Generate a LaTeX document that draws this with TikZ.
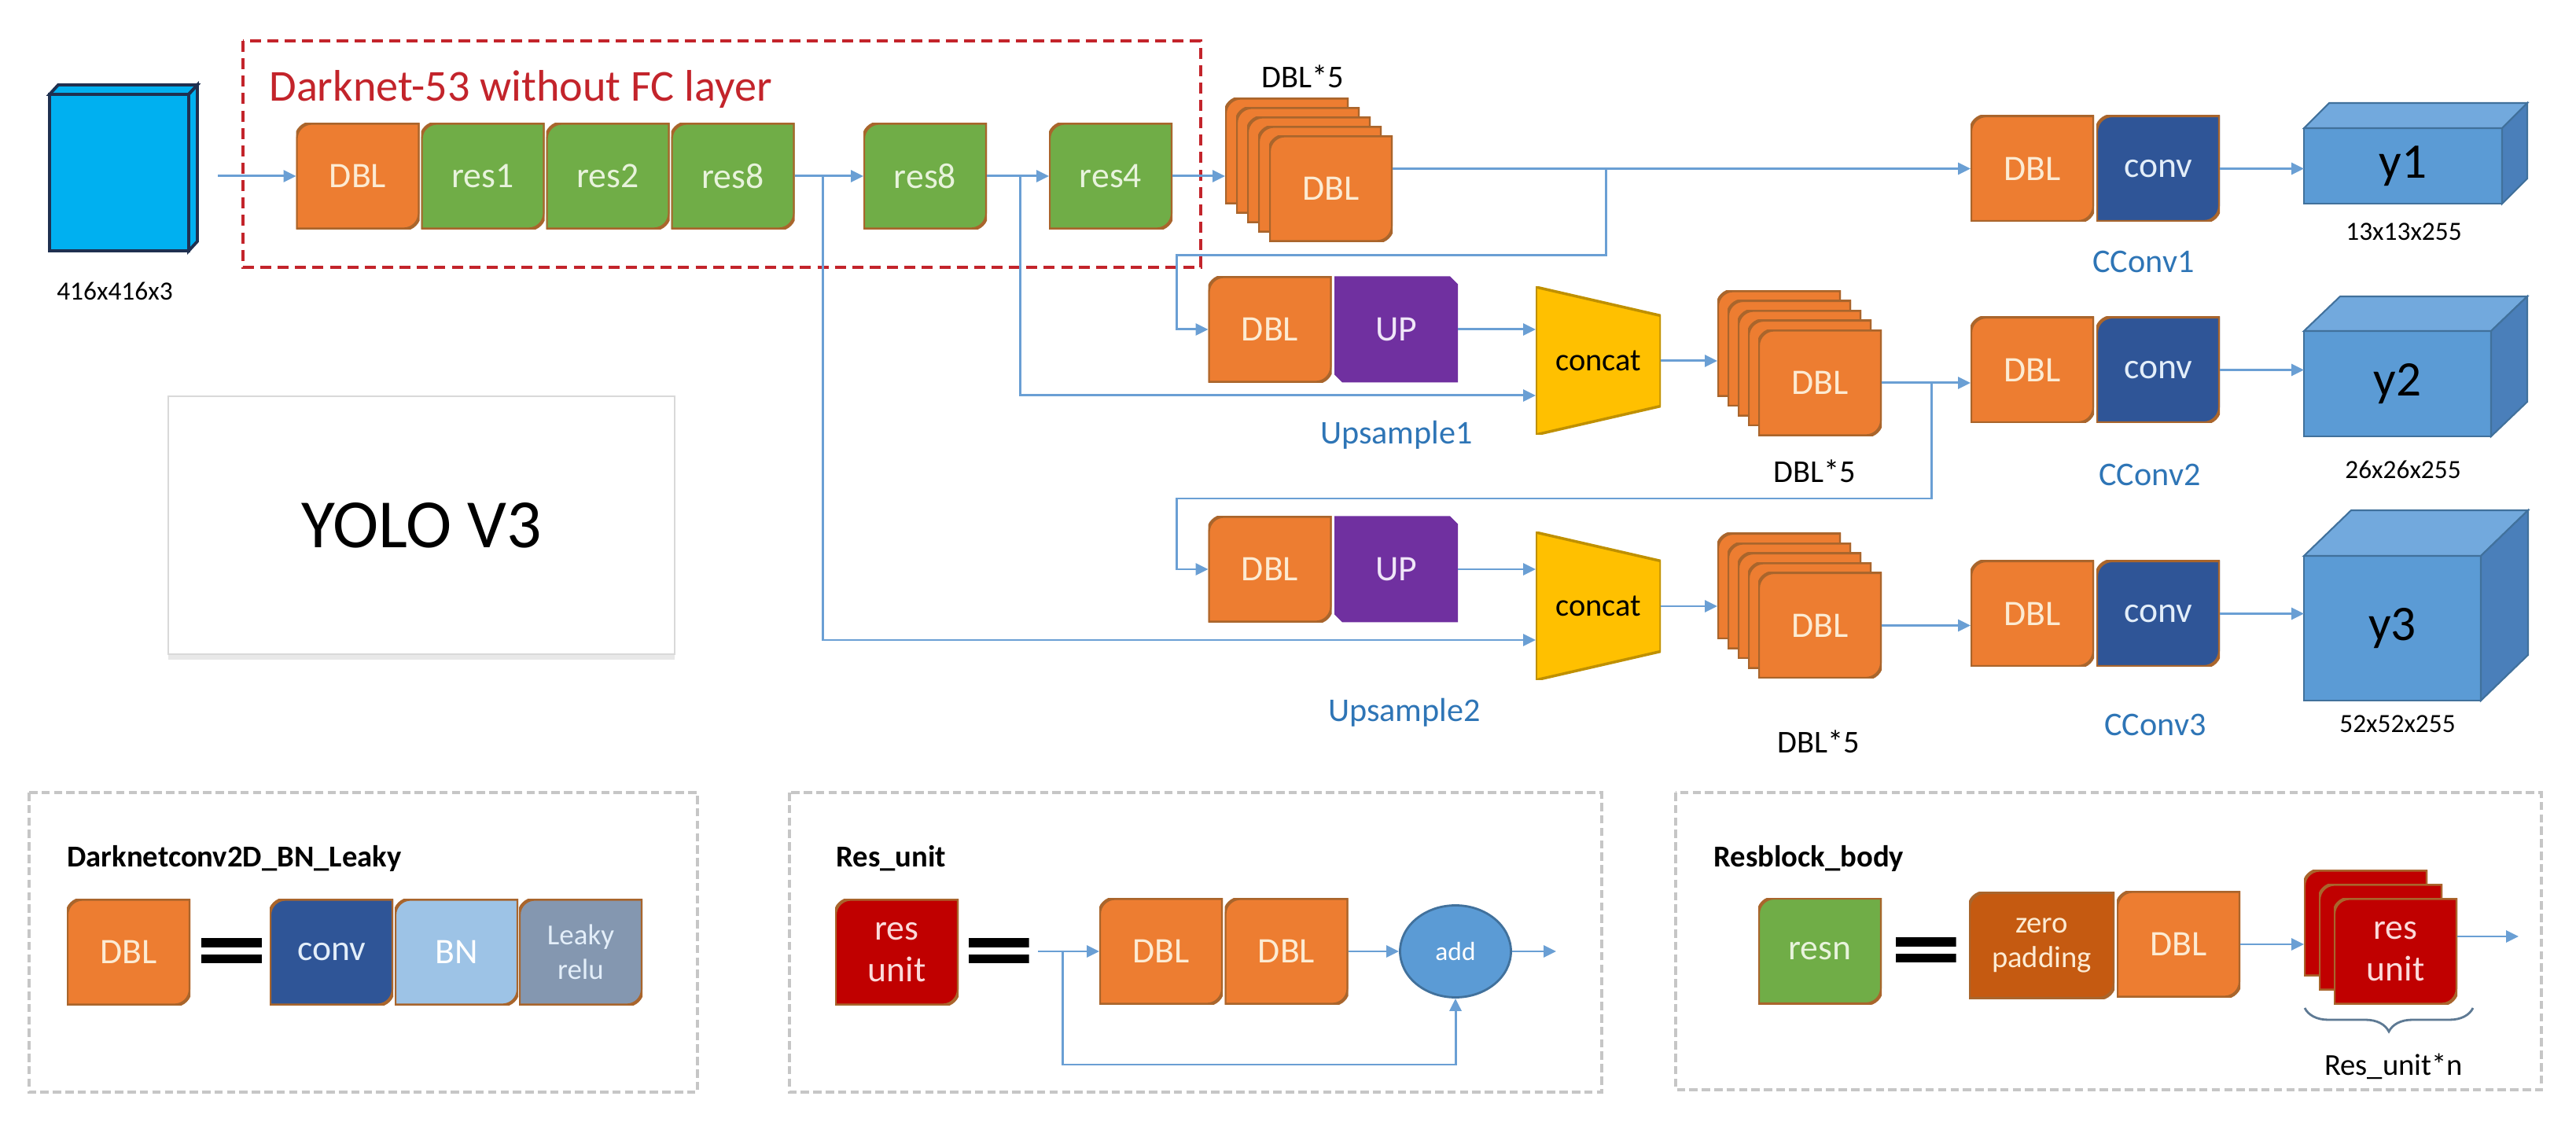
\documentclass[tikz,border=0pt]{standalone}
\usepackage{fontspec}
\setmainfont{Carlito}
\usetikzlibrary{arrows.meta,calc,shapes.geometric,shadows,decorations.pathreplacing}

\definecolor{orng}{HTML}{ED7D31}
\definecolor{grn}{HTML}{70AD47}
\definecolor{purp}{HTML}{7030A0}
\definecolor{navy}{HTML}{2F5597}
\definecolor{lblue}{HTML}{9DC3E6}
\definecolor{slate}{HTML}{8497B0}
\definecolor{dred}{HTML}{C00000}
\definecolor{rust}{HTML}{C55A11}
\definecolor{gold}{HTML}{FFC000}
\definecolor{cyanbox}{HTML}{00B0F0}
\definecolor{inedge}{HTML}{1F3050}
\definecolor{cubefront}{HTML}{5B9BD5}
\definecolor{cubetop}{HTML}{72A9DD}
\definecolor{cubeside}{HTML}{4A7FBA}
\definecolor{cubeedge}{HTML}{41719C}
\definecolor{edge}{HTML}{A9652C}
\definecolor{linkc}{HTML}{6A9FD4}
\definecolor{lbl}{HTML}{2E75B6}
\definecolor{darkred}{HTML}{C3242B}
\definecolor{cream}{HTML}{FCEBD3}
\definecolor{palegrn}{HTML}{E8F3DC}
\definecolor{lav}{HTML}{EFE6F7}
\definecolor{icy}{HTML}{E3EEF9}
\definecolor{pinkish}{HTML}{FBDADA}
\definecolor{bracec}{HTML}{5E7A94}

\newcommand\fsz[2]{\fontsize{#1}{#2}\selectfont}

\tikzset{
  blk/.style n args={2}{minimum width=1.57cm, minimum height=1.35cm, inner sep=0pt, outer sep=0pt,
    text=#2, font=\fsz{13}{15}, align=center,
    path picture={\filldraw[fill=#1, draw=edge, line width=1.2pt]
      ([yshift=-2mm]path picture bounding box.north west) arc[start angle=180, end angle=90, radius=2mm]
      -- (path picture bounding box.north east)
      -- ([yshift=2mm]path picture bounding box.south east) arc[start angle=0, end angle=-90, radius=2mm]
      -- (path picture bounding box.south west) -- cycle;}},
  dbl/.style={blk={orng}{cream}},
  res/.style={blk={grn}{palegrn}},
  upblk/.style={minimum width=1.57cm, minimum height=1.35cm, inner sep=0pt, outer sep=0pt,
    text=lav, font=\fsz{13}{15},
    path picture={\fill[purp] (path picture bounding box.north west)
      -- ([xshift=-1mm]path picture bounding box.north east) -- ([yshift=-1mm]path picture bounding box.north east)
      -- (path picture bounding box.south east) -- ([xshift=1mm]path picture bounding box.south west)
      -- ([yshift=1mm]path picture bounding box.south west) -- cycle;}},
  catblk/.style={minimum width=1.59cm, minimum height=1.88cm, inner sep=0pt, outer sep=0pt,
    font=\fsz{11.5}{13},
    path picture={\filldraw[fill=gold, draw=gold!75!black, line width=1pt]
      (path picture bounding box.north west) -- ([yshift=-3.65mm]path picture bounding box.north east)
      -- ([yshift=3.65mm]path picture bounding box.south east) -- (path picture bounding box.south west) -- cycle;}},
  incube/.style={fill=cyanbox, draw=inedge, line width=1.1pt},
  ycube/.style={fill=cubefront, draw=cubeedge, line width=0.6pt, inner sep=0pt, outer sep=0pt,
    font=\fsz{18}{20}},
  eqsign/.style={minimum width=0.77cm, minimum height=0.32cm, inner sep=0pt,
    path picture={\fill[black] (path picture bounding box.north west) rectangle ([yshift=-1.2mm]path picture bounding box.north east);
      \fill[black] (path picture bounding box.south west) rectangle ([yshift=1.1mm]path picture bounding box.south east);}},
  arr/.style={draw=linkc, line width=0.85pt, -{Triangle[length=1.6mm,width=1.5mm]}},
  reddash/.style={draw=darkred, line width=1.1pt, dash pattern=on 4pt off 2.3pt},
  panel/.style={draw=gray!45, line width=1pt, dash pattern=on 3pt off 1.5pt},
  title/.style={font=\bfseries\fsz{11}{13}, anchor=west},
  dim/.style={font=\fsz{9.5}{11}},
  dimfive/.style={font=\fsz{11.5}{13}},
  tag/.style={text=lbl, font=\fsz{12}{14}}
}

\begin{document}
\begin{tikzpicture}
\useasboundingbox (0,0) rectangle (32.76,14.40);
\fill[white] (0,0) rectangle (32.76,14.40);

% backbone
\draw[reddash] (3.09,13.88) rectangle (15.27,11.00);
\node (dntitle) [anchor=west, text=darkred, font=\fsz{16}{19}] at (3.30,13.26) {Darknet-53 without FC layer};

\node (in) [incube, inner sep=0pt, outer sep=0pt, minimum width=1.77cm, minimum height=1.99cm] at (1.515,12.205) {};
\filldraw[incube] (in.north west) -- ++(0.11,0.12) -- ($(in.north east)+(0.11,0.12)$) -- (in.north east) -- cycle;
\filldraw[incube] (in.north east) -- ++(0.11,0.12) -- ($(in.south east)+(0.11,0.12)$) -- (in.south east) -- cycle;
\node (insize) [dim] at (1.46,10.70) {416x416x3};

\node (dbl0) [dbl] at (4.55,12.16) {DBL};
\node (r1) [res] at (6.14,12.16) {res1};
\node (r2) [res] at (7.73,12.16) {res2};
\node (r8a) [res] at (9.32,12.16) {res8};
\node (r8b) [res] at (11.765,12.16) {res8};
\node (r4) [res] at (14.125,12.16) {res4};

% DBL*5 stacks
\foreach \k in {4,3,2,1}
  \node (s1b\k) [dbl] at (16.925-0.14*\k,12.00+0.12*\k) {};
\node (s1f) [dbl] at (16.925,12.00) {DBL};
\node (s1lbl) [dimfive] at (16.57,13.43) {DBL*5};

\foreach \k in {4,3,2,1}
  \node (s2b\k) [dbl] at (23.145-0.13*\k,9.53+0.125*\k) {};
\node (s2f) [dbl] at (23.145,9.53) {DBL};
\node (s2lbl) [dimfive] at (23.08,8.41) {DBL*5};

\foreach \k in {4,3,2,1}
  \node (s3b\k) [dbl] at (23.145-0.13*\k,6.445+0.125*\k) {};
\node (s3f) [dbl] at (23.145,6.445) {DBL};
\node (s3lbl) [dimfive] at (23.13,4.97) {DBL*5};

% upsample + concat
\node (u1d) [dbl] at (16.15,10.21) {DBL};
\node (u1p) [upblk] at (17.755,10.21) {UP};
\node (ups1) [tag] at (17.76,8.87) {Upsample1};
\node (cat1) [catblk] at (20.325,9.81) {concat};

\node (u2d) [dbl] at (16.15,7.16) {DBL};
\node (u2p) [upblk] at (17.755,7.16) {UP};
\node (ups2) [tag] at (17.86,5.34) {Upsample2};
\node (cat2) [catblk] at (20.325,6.69) {concat};

% heads
\node (c1d) [dbl] at (25.845,12.255) {DBL};
\node (c1v) [blk={navy}{icy}] at (27.445,12.255) {conv};
\node (cc1) [tag] at (27.26,11.07) {CConv1};
\node (c2d) [dbl] at (25.845,9.695) {DBL};
\node (c2v) [blk={navy}{icy}] at (27.445,9.695) {conv};
\node (cc2) [tag] at (27.34,8.36) {CConv2};
\node (c3d) [dbl] at (25.845,6.595) {DBL};
\node (c3v) [blk={navy}{icy}] at (27.445,6.595) {conv};
\node (cc3) [tag] at (27.41,5.18) {CConv3};

\node (y1) [ycube, minimum width=2.52cm, minimum height=0.96cm] at (30.56,12.29) {y1};
\node (y2) [ycube, minimum width=2.38cm, minimum height=1.34cm] at (30.49,9.52) {y2};
\node (y3) [ycube, minimum width=2.25cm, minimum height=1.84cm] at (30.425,6.41) {y3};
\foreach \n/\dx/\dy in {y1/0.32/0.32, y2/0.46/0.44, y3/0.60/0.58}{
  \filldraw[fill=cubetop, draw=cubeedge, line width=0.6pt] (\n.north west) -- ++(\dx,\dy) -- ($(\n.north east)+(\dx,\dy)$) -- (\n.north east) -- cycle;
  \filldraw[fill=cubeside, draw=cubeedge, line width=0.6pt] (\n.north east) -- ++(\dx,\dy) -- ($(\n.south east)+(\dx,\dy)$) -- (\n.south east) -- cycle;
}
\node (d1) [dim] at (30.57,11.45) {13x13x255};
\node (d2) [dim] at (30.56,8.43) {26x26x255};
\node (d3) [dim] at (30.49,5.19) {52x52x255};

% connectors
\draw[arr, shorten <=3.7mm] (in.east |- dbl0.west) -- (dbl0.west);
\draw[arr] (r8a.east) -- (r8b.west);
\draw[arr] (r8b.east) -- (r4.west);
\draw[arr] (r4.east) -- (r4.east -| s1b4.west);
\draw[arr] (s1f.east |- c1d.west) -- (c1d.west);
\draw[arr] (c1v.east) -- (c1v.east -| y1.west);
\coordinate (br1) at (20.42,12.255);
\coordinate (fb1) at (14.96,11.15);
\draw[arr] (br1) |- (fb1) |- (u1d.west);
\draw[arr] (u1p.east) -- (u1p.east -| cat1.west);
\coordinate (br2) at (12.97,12.16);
\draw[arr] (br2) |- ([yshift=-4.4mm]cat1.west);
\draw[arr] (cat1.east) -- (cat1.east -| s2b4.west);
\draw[arr] (s2f.east) -- (s2f.east -| c2d.west);
\draw[arr] (c2v.east) -- (c2v.east -| y2.west);
\coordinate (br3) at (24.56,9.53);
\coordinate (fb2) at (14.96,8.06);
\draw[arr] (br3) |- (fb2) |- (u2d.west);
\draw[arr] (u2p.east) -- (u2p.east -| cat2.west);
\coordinate (br4) at (10.46,12.16);
\draw[arr] (br4) |- ([yshift=-4.3mm]cat2.west);
\draw[arr] (cat2.east) -- (cat2.east -| s3b4.west);
\draw[arr] (s3f.east) -- (s3f.east -| c3d.west);
\draw[arr] (c3v.east) -- (c3v.east -| y3.west);

\node (yolo) [draw=gray!30, fill=white, minimum width=6.44cm, minimum height=3.28cm,
  drop shadow={opacity=0.18, shadow xshift=0mm, shadow yshift=-0.7mm}, font=\fsz{25}{30}] at (5.36,7.72) {YOLO V3};

% legend panels
\draw[panel] (0.37,4.32) rectangle (8.87,0.51);
\node (t1) [title] at (0.73,3.48) {Darknetconv2D\_BN\_Leaky};
\node (ld) [dbl] at (1.635,2.29) {DBL};
\node (eq1) [eqsign] at (2.945,2.31) {};
\node (lc) [blk={navy}{icy}] at (4.215,2.29) {conv};
\node (lb) [blk={lblue}{white}] at (5.805,2.29) {BN};
\node (ll) [blk={slate}{icy}, font=\fsz{10.5}{12.5}] at (7.385,2.29) {Leaky\\relu};

\draw[panel] (10.04,4.32) rectangle (20.37,0.51);
\node (t2) [title] at (10.51,3.48) {Res\_unit};
\node (ru) [blk={dred}{pinkish}] at (11.405,2.29) {res\\unit};
\node (eq2) [eqsign] at (12.70,2.31) {};
\node (rda) [dbl] at (14.765,2.30) {DBL};
\node (rdb) [dbl] at (16.36,2.30) {DBL};
\node (add) [ellipse, fill=cubefront, draw=cubeedge, line width=0.8pt, minimum width=1.41cm,
  minimum height=1.17cm, text=white, font=\fsz{9.5}{11}] at (18.51,2.30) {add};
\coordinate (ruin) at (13.20,2.30);
\coordinate (rub) at (13.51,2.30);
\coordinate (ruout) at (19.79,2.30);
\draw[arr] (ruin) -- (rda.west);
\draw[arr] (rub) -- ++(0,-1.44) -| (add.south);
\draw[arr] (rdb.east) -- (add.west);
\draw[arr] (add.east) -- (ruout);

\draw[panel] (21.31,4.32) rectangle (32.32,0.54);
\node (t3) [title] at (21.67,3.48) {Resblock\_body};
\node (rn) [res] at (23.145,2.305) {resn};
\node (eq3) [eqsign] at (24.49,2.32) {};
\node (zp) [blk={rust}{cream}, minimum width=1.85cm, font=\fsz{11}{12.5}] at (25.965,2.375) {zero\\padding};
\node (zd) [dbl] at (27.705,2.39) {DBL};
\foreach \k in {2,1}
  \node (rsb\k) [blk={dred}{pinkish}] at (30.465-0.19*\k,2.30+0.18*\k) {};
\node (rsf) [blk={dred}{pinkish}] at (30.465,2.30) {res\\unit};
\draw[arr] (zd.east) -- (zd.east -| rsb2.west);
\coordinate (rbout) at (32.03,2.49);
\draw[arr] (rbout -| rsf.east) -- (rbout);
\coordinate (brl) at (29.31,1.58);
\coordinate (brr) at (31.45,1.58);
\draw[decorate, decoration={brace, mirror, amplitude=3mm}, draw=bracec, line width=0.8pt] (brl) -- (brr);
\node (rn) [font=\fsz{11}{13}] at (30.44,0.84) {Res\_unit*n};
\end{tikzpicture}
\end{document}
